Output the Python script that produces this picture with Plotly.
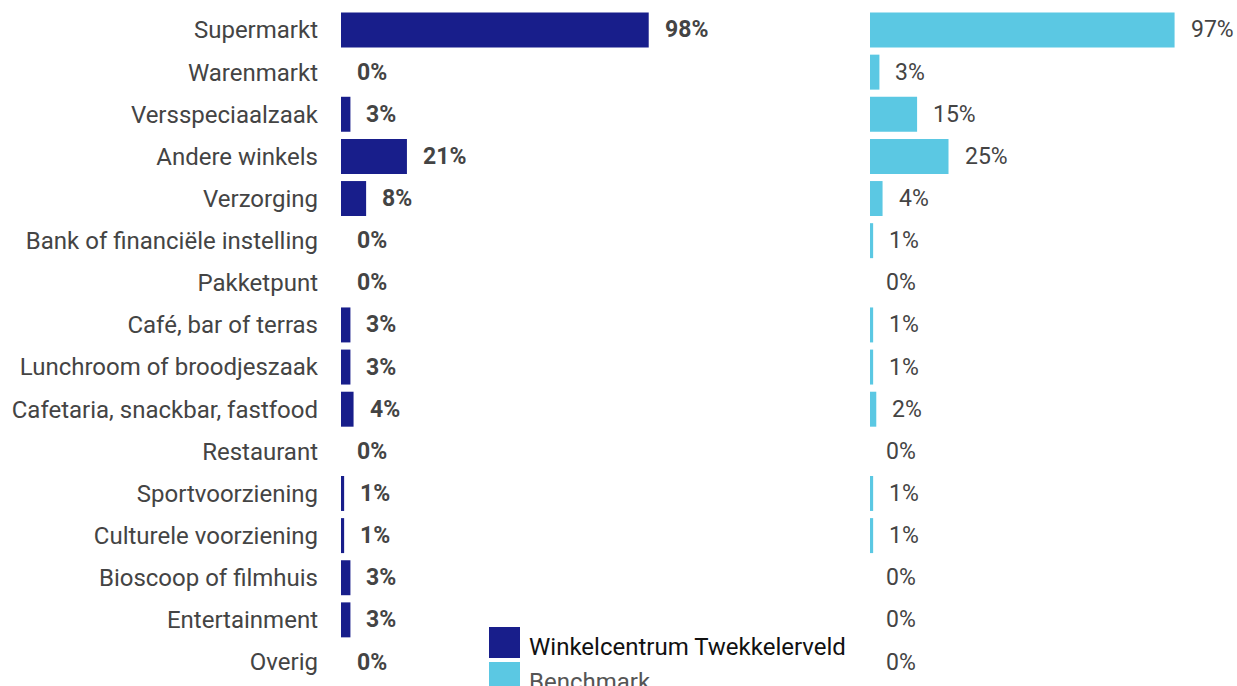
import plotly.graph_objects as go

categories = ["Supermarkt", "Warenmarkt", "Versspeciaalzaak", "Andere winkels", "Verzorging",
              "Bank of financiële instelling", "Pakketpunt", "Café, bar of terras",
              "Lunchroom of broodjeszaak", "Cafetaria, snackbar, fastfood", "Restaurant",
              "Sportvoorziening", "Culturele voorziening", "Bioscoop of filmhuis",
              "Entertainment", "Overig"]
winkelcentrum = [98, 0, 3, 21, 8, 0, 0, 3, 3, 4, 0, 1, 1, 3, 3, 0]
benchmark = [97, 3, 15, 25, 4, 1, 0, 1, 1, 2, 0, 1, 1, 0, 0, 0]
series_names = ["Winkelcentrum Twekkelerveld", "Benchmark"]

DARK = "#181e8b"
LIGHT = "#5bc8e3"
FONT = "Roboto"
W, H = 1237, 686

fig = go.Figure()
fig.add_trace(go.Bar(x=winkelcentrum, y=categories, orientation="h", marker_color=DARK,
                     marker_line_width=0, xaxis="x", yaxis="y", name=series_names[0],
                     showlegend=False, hoverinfo="x+y"))
fig.add_trace(go.Bar(x=benchmark, y=categories, orientation="h", marker_color=LIGHT,
                     marker_line_width=0, xaxis="x2", yaxis="y2", name=series_names[1],
                     showlegend=False, hoverinfo="x+y"))

annotations = []
for c, v in zip(categories, winkelcentrum):
    annotations.append(dict(x=v, y=c, xref="x", yref="y", text=f"<b>{v}%</b>", showarrow=False,
                            xanchor="left", xshift=14, font=dict(family=FONT, size=23, color="#444444")))
for c, v in zip(categories, benchmark):
    annotations.append(dict(x=v, y=c, xref="x2", yref="y2", text=f"{v}%", showarrow=False,
                            xanchor="left", xshift=14, font=dict(family=FONT, size=23, color="#444444")))

# custom legend
legend_colors = [DARK, LIGHT]
legend_text_colors = ["#111111", "#555555"]
shapes = []
for i, (name, col, tc) in enumerate(zip(series_names, legend_colors, legend_text_colors)):
    top = 627 + i * 35
    shapes.append(dict(type="rect", xref="paper", yref="paper",
                       x0=489 / W, x1=520 / W, y0=1 - (top + 31) / H, y1=1 - top / H,
                       fillcolor=col, line_width=0))
    annotations.append(dict(x=527 / W, y=1 - (top + 20) / H, xref="paper", yref="paper",
                            text=name, showarrow=False, xanchor="left", yanchor="middle",
                            font=dict(family=FONT, size=24, color=tc)))

ydom = [(H - 683.07) / H, (H - 8.93) / H]
fig.update_layout(
    width=W, height=H,
    margin=dict(l=0, r=0, t=0, b=0),
    paper_bgcolor="white", plot_bgcolor="white",
    bargap=0.17,
    font=dict(family=FONT, size=23, color="#444444"),
    xaxis=dict(domain=[341 / W, 655 / W], range=[0, 100], visible=False, fixedrange=True),
    xaxis2=dict(domain=[870 / W, 1184 / W], range=[0, 100], visible=False, fixedrange=True),
    yaxis=dict(domain=ydom, autorange="reversed", anchor="x", showgrid=False, showline=False,
               zeroline=False, ticks="", ticklabelstandoff=22,
               tickfont=dict(family=FONT, size=24, color="#444444")),
    yaxis2=dict(domain=ydom, autorange="reversed", anchor="x2", showticklabels=False,
                showgrid=False, showline=False, zeroline=False, matches="y"),
    annotations=annotations,
    shapes=shapes,
)

fig.write_html("out.html", config={"displayModeBar": False},
               post_script="document.body.style.margin='0';document.body.style.overflow='hidden';")
